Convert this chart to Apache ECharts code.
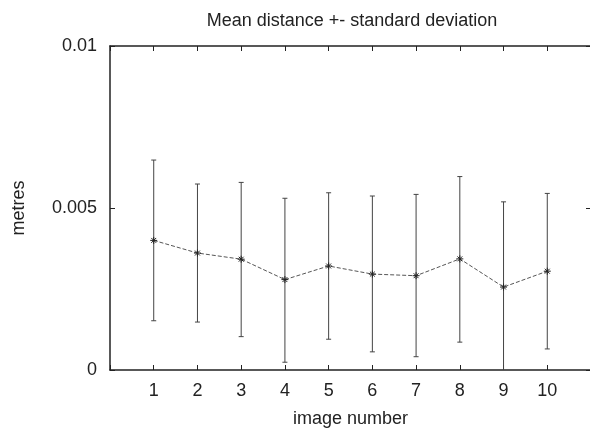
<!DOCTYPE html>
<html>
<head>
<meta charset="utf-8">
<script src="https://cdn.jsdelivr.net/npm/echarts@6/dist/echarts.min.js"></script>
<style>
  html, body { margin: 0; padding: 0; background: #fff; }
  #chart { width: 590px; height: 431px; }
</style>
</head>
<body>
<div id="chart"></div>
<script>
// image numbers and measured values (metres)
const images = [1, 2, 3, 4, 5, 6, 7, 8, 9, 10]
const meanDist = [0.00400, 0.00361, 0.00342, 0.00279, 0.00321, 0.00296, 0.00291, 0.00343, 0.00256, 0.00305]
const upper = [0.00648, 0.00574, 0.00579, 0.00530, 0.00547, 0.00537, 0.00542, 0.00597, 0.00519, 0.00545]
const lower = [0.00152, 0.00148, 0.00103, 0.00024, 0.00095, 0.00056, 0.00041, 0.00086, -0.00007, 0.00065]
const yTicks = [0, 0.005, 0.01]

const font = 'Liberation Sans, Arial, Helvetica, sans-serif'
const ink = '#222'

const chart = echarts.init(document.getElementById('chart'))

// asterisk marker: a + and an x
const star = 'path://M0,-1L0,1M-1,0L1,0M-0.7,-0.7L0.7,0.7M-0.7,0.7L0.7,-0.7'

const tick = { show: true, inside: true, length: 5, lineStyle: { color: ink, width: 1 } }
const line = { show: true, onZero: false, lineStyle: { color: ink, width: 1.5 } }

chart.setOption({
  animation: false,
  title: {
    text: 'Mean distance +- standard deviation',
    left: 347,
    textAlign: 'center',
    top: 7,
    textStyle: { fontFamily: font, fontSize: 18, fontWeight: 'normal', color: ink }
  },
  grid: { left: 110, top: 46, width: 481, height: 324, outerBoundsMode: 'none', containLabel: false },
  xAxis: [
    {
      type: 'value', min: 0, max: 11, interval: 1, position: 'bottom',
      name: 'image number', nameLocation: 'middle', nameGap: 40,
      nameTextStyle: { fontFamily: font, fontSize: 18, color: ink },
      axisLine: line,
      axisTick: tick,
      axisLabel: {
        fontFamily: font, fontSize: 18, color: ink, margin: 12,
        formatter: v => (images.includes(v) ? String(v) : '')
      },
      splitLine: { show: false }
    },
    {
      type: 'value', min: 0, max: 11, interval: 1, position: 'top',
      axisLine: line,
      axisTick: tick,
      axisLabel: { show: false },
      splitLine: { show: false }
    }
  ],
  yAxis: [
    {
      type: 'value', min: 0, max: 0.01, interval: 0.005, position: 'left',
      name: 'metres', nameLocation: 'middle', nameGap: 82,
      nameTextStyle: { fontFamily: font, fontSize: 18, color: ink },
      axisLine: line,
      axisTick: tick,
      axisLabel: {
        fontFamily: font, fontSize: 18, color: ink, margin: 13,
        formatter: v => (yTicks.includes(v) ? String(v) : '')
      },
      splitLine: { show: false }
    },
    {
      type: 'value', min: 0, max: 0.01, interval: 0.005, position: 'right',
      axisLine: line,
      axisTick: tick,
      axisLabel: { show: false },
      splitLine: { show: false }
    }
  ],
  series: [
    {
      type: 'custom',
      clip: true,
      data: images.map((x, i) => [x, lower[i], upper[i]]),
      renderItem: (params, api) => {
        const lo = api.coord([api.value(0), api.value(1)])
        const hi = api.coord([api.value(0), api.value(2)])
        const cap = 2.5
        const style = { stroke: '#444', lineWidth: 1 }
        return {
          type: 'group',
          children: [
            { type: 'line', shape: { x1: lo[0], y1: lo[1], x2: hi[0], y2: hi[1] }, style },
            { type: 'line', shape: { x1: hi[0] - cap, y1: hi[1], x2: hi[0] + cap, y2: hi[1] }, style },
            { type: 'line', shape: { x1: lo[0] - cap, y1: lo[1], x2: lo[0] + cap, y2: lo[1] }, style }
          ]
        }
      },
      z: 2
    },
    {
      type: 'line',
      data: images.map((x, i) => [x, meanDist[i]]),
      symbol: star,
      symbolSize: 7,
      lineStyle: { color: '#555', width: 1, type: [4, 2] },
      itemStyle: { color: 'none', borderColor: '#222', borderWidth: 1 },
      z: 3
    }
  ]
})
</script>
</body>
</html>
